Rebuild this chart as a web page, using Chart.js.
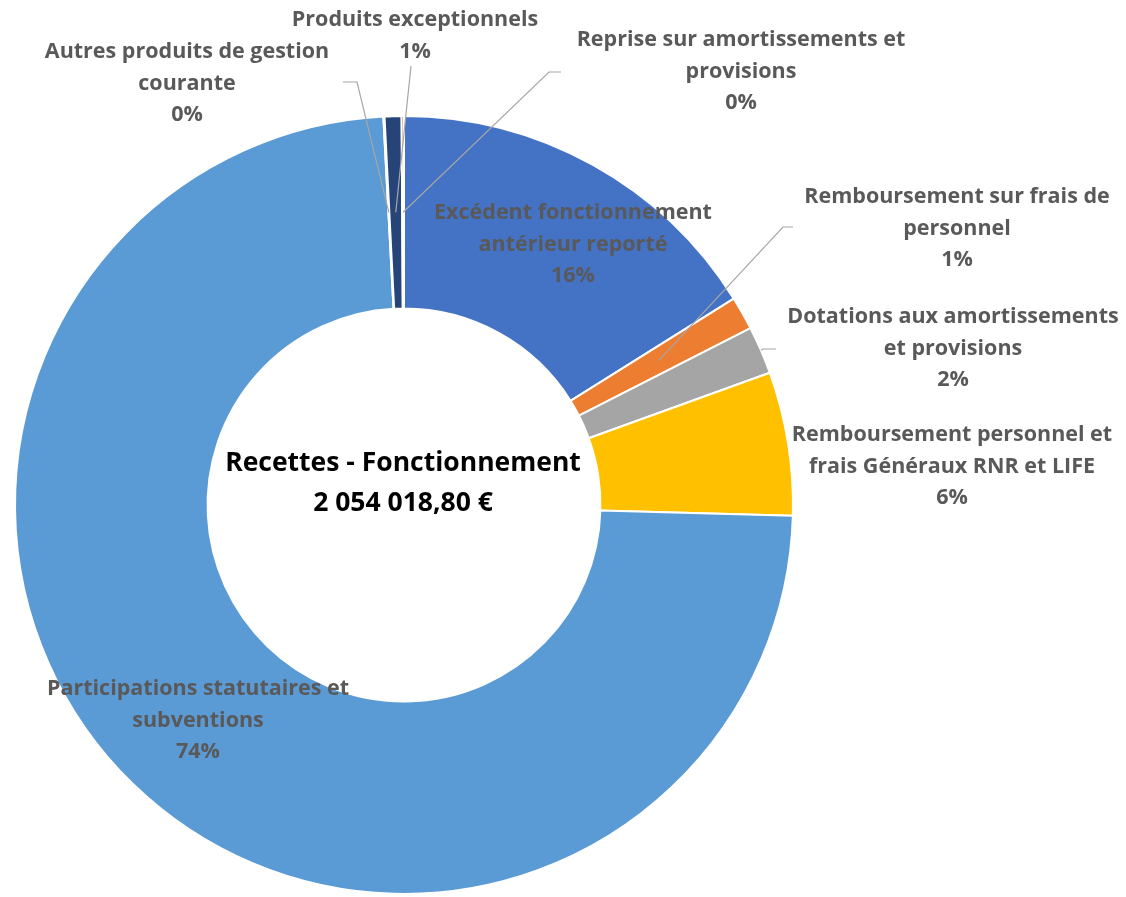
<!DOCTYPE html>
<html lang="fr">
<head>
<meta charset="utf-8">
<title>Recettes - Fonctionnement</title>
<script src="https://cdn.jsdelivr.net/npm/chart.js@4.4.1/dist/chart.umd.min.js"></script>
<style>
  html, body { margin: 0; padding: 0; background: #fff; }
  #wrap { width: 1126px; height: 897px; }
</style>
</head>
<body>
<div id="wrap"><canvas id="chart" width="1126" height="897"></canvas></div>
<script>
"use strict";

// ---- data ----
const categories = [
  ["Excédent fonctionnement", "antérieur reporté"],
  ["Remboursement sur frais de", "personnel"],
  ["Dotations aux amortissements", "et provisions"],
  ["Remboursement personnel et", "frais Généraux RNR et LIFE"],
  ["Participations statutaires et", "subventions"],
  ["Autres produits de gestion", "courante"],
  ["Produits exceptionnels"],
  ["Reprise sur amortissements et", "provisions"],
];
const amounts = [330700, 28550, 40870, 122420, 1514098.80, 1000, 14380, 2000];
const centerTitle = "Recettes - Fonctionnement";

// ---- styling / layout ----
const colors = ["#4472C4", "#ED7D31", "#A5A5A5", "#FFC000", "#5B9BD5", "#70AD47", "#264478", "#9E480E"];
const FONT = "'Open Sans', Lato, sans-serif";
const LABEL_COLOR = "#595959";
const LINE_H = 31.5;

// label block: centre x, centre y of first line; leader: knee points from label side, end on slice
const labelLayout = [
  { x: 573, y: 213 },
  { x: 957, y: 197, leader: [[793, 227], [783, 227]], to: "ring" },
  { x: 953, y: 317, leader: [[776, 349], [763, 349]], to: "edge" },
  { x: 952, y: 435 },
  { x: 198, y: 689 },
  { x: 187, y: 52, leader: [[343, 82], [357, 82]], to: "ring" },
  { x: 415, y: 20, leader: [[411, 66]], to: "ring" },
  { x: 741, y: 40, leader: [[561, 72], [549, 72]], to: "ring" },
];

const total = amounts.reduce((a, b) => a + b, 0);

function euros(v) {
  const [int, dec] = v.toFixed(2).split(".");
  return int.replace(/\B(?=(\d{3})+(?!\d))/g, " ") + "," + dec + " €";
}

// ---- labels, leader lines and centre title ----
const sliceLabels = {
  id: "sliceLabels",
  afterDatasetsDraw(chart) {
    const ctx = chart.ctx;
    const arcs = chart.getDatasetMeta(0).data;
    ctx.save();

    // leader lines first, text on top
    ctx.strokeStyle = "#A6A6A6";
    ctx.lineWidth = 1.2;
    arcs.forEach((arc, i) => {
      const lay = labelLayout[i];
      if (!lay.leader) return;
      const p = arc.getProps(["x", "y", "startAngle", "endAngle", "innerRadius", "outerRadius"], true);
      const mid = (p.startAngle + p.endAngle) / 2;
      const r = lay.to === "edge" ? p.outerRadius : (p.innerRadius + p.outerRadius) / 2;
      ctx.beginPath();
      lay.leader.forEach(([lx, ly], k) => (k ? ctx.lineTo(lx, ly) : ctx.moveTo(lx, ly)));
      ctx.lineTo(p.x + Math.cos(mid) * r, p.y + Math.sin(mid) * r);
      ctx.stroke();
    });

    ctx.textAlign = "center";
    ctx.textBaseline = "middle";
    ctx.fillStyle = LABEL_COLOR;
    ctx.font = "bold 21.5px " + FONT;
    arcs.forEach((arc, i) => {
      const lay = labelLayout[i];
      const lines = categories[i].concat(Math.round(amounts[i] / total * 100) + "%");
      lines.forEach((t, k) => ctx.fillText(t, lay.x, lay.y + k * LINE_H));
    });

    const c = arcs[0];
    ctx.fillStyle = "#000";
    ctx.font = "bold 26.5px " + FONT;
    ctx.fillText(centerTitle, c.x - 1, c.y - 42);
    ctx.fillText(euros(total), c.x - 1, c.y - 2);
    ctx.restore();
  },
};

// ---- chart ----
new Chart(document.getElementById("chart"), {
  type: "doughnut",
  data: {
    labels: categories,
    datasets: [{
      data: amounts,
      backgroundColor: colors,
      borderColor: "#ffffff",
      borderWidth: 2,
      hoverOffset: 0,
    }],
  },
  options: {
    responsive: false,
    animation: false,
    events: [],
    cutout: "50.5%",
    layout: { padding: { left: 14, right: 332, top: 115, bottom: 2 } },
    plugins: { legend: { display: false }, tooltip: { enabled: false } },
  },
  plugins: [sliceLabels],
});
</script>
</body>
</html>
